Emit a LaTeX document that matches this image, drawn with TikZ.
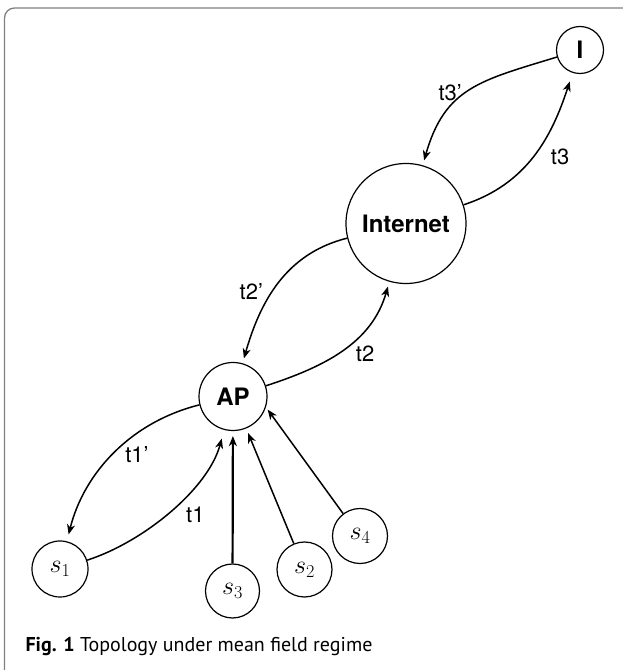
\RequirePackage{fix-cm}
\documentclass[tikz,border=0pt]{standalone}
\usepackage{fontspec}
\setsansfont{TeX Gyre Heros}
\newfontfamily\capfont{PT Sans}
\usepackage{tikz}
\usetikzlibrary{arrows.meta}

\begin{document}
\begin{tikzpicture}[
  x=1pt, y=1pt,
  state/.style={draw, circle, line width=1.2pt, minimum size=#1, inner sep=0pt},
  link/.style={-{Stealth[length=10pt,width=8pt,inset=3pt]}, line width=1.5pt, shorten >=5pt},
  lbl/.style={font=\sffamily\fontsize{22}{24}\selectfont, inner sep=0pt, anchor=center},
  hub/.style={font=\sffamily\bfseries\fontsize{24}{28}\selectfont},
  sta/.style={font=\fontsize{26}{30}\selectfont}
]
\useasboundingbox (0,0) rectangle (623,670);
% frame, cut off at right and bottom
\begin{scope}
  \clip (0,0) rectangle (623,670);
  \draw[gray, line width=1.3pt, rounded corners=10pt] (4.5,-40) rectangle (660,662);
\end{scope}

\node[state=47pt, hub] (i) at (580,620) {I};
\node[state=120pt, hub] (inet) at (406,446.5) {Internet};
\node[state=68pt, hub] (ap) at (233,273.5) {AP};
\node[state=56pt, sta] (s1) at (60,101) {$s_1$};
\node[state=54pt, sta] (s3) at (232.5,79) {$s_3$};
\node[state=55pt, sta] (s2) at (304.5,100.5) {$s_2$};
\node[state=55pt, sta] (s4) at (360,134) {$s_4$};

% paired links
\draw[link] (i) to[out=197, in=74, looseness=1.2]
  node[lbl, pos=0.5, xshift=-19pt, yshift=-2pt] {t3'} (inet);
\draw[link, shorten >=9pt] (inet) to[out=18, in=252]
  node[lbl, pos=0.5, xshift=26pt, yshift=-2pt] {t3} (i);
\draw[link] (inet) to[out=194, in=74]
  node[lbl, pos=0.5, xshift=-27pt, yshift=-8pt] {t2'} (ap);
\draw[link] (ap) to[out=18, in=254]
  node[lbl, pos=0.5, xshift=21.5pt, yshift=-4.5pt] {t2} (inet);
\draw[link, shorten >=7pt] (ap) to[out=194, in=76, looseness=0.95]
  node[lbl, pos=0.5, xshift=23pt, yshift=-1pt] {t1'} (s1);
\draw[link, shorten >=9pt] (s1) to[out=18, in=255, looseness=0.82]
  node[lbl, pos=0.5, xshift=24pt, yshift=-4.5pt] {t1} (ap);

% stations to AP
\draw[link, line width=2.2pt] (s3) -- (ap);
\draw[link] (s2) -- (ap);
\draw[link, shorten >=3pt] (s4.127) -- (ap.-18);

\node[anchor=base west, font=\capfont\fontsize{20}{24}\selectfont] (cap) at (22,18)
  {\textbf{Fig. 1} Topology under mean field regime};
\end{tikzpicture}
\end{document}
